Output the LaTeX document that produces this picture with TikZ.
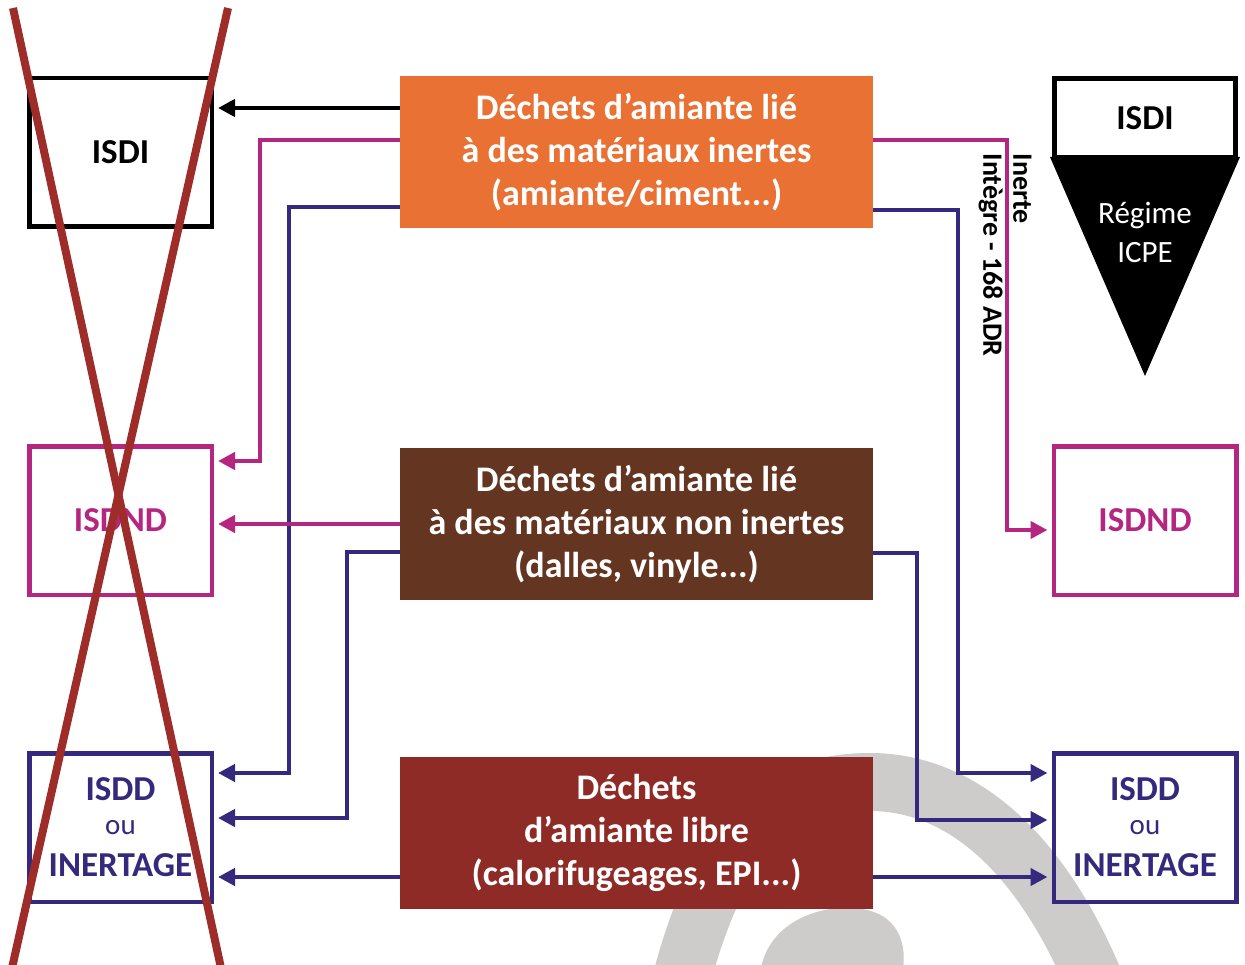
\documentclass[tikz,border=0pt]{standalone}
\usepackage{fontspec}
\setmainfont{Carlito}
\usetikzlibrary{arrows.meta}
\definecolor{orangebox}{RGB}{233,113,52}
\definecolor{brownbox}{RGB}{100,53,33}
\definecolor{redbox}{RGB}{143,43,38}
\definecolor{magflow}{RGB}{180,38,128}
\definecolor{blueflow}{RGB}{52,41,124}
\definecolor{crossred}{RGB}{158,44,40}
\definecolor{logogrey}{RGB}{206,204,202}

\begin{document}
\begin{tikzpicture}[x=1pt,y=-1pt]
  \tikzset{
    waste/.style={fill=#1,text=white,minimum width=473pt,minimum height=152pt,align=center,inner sep=0pt,font=\fontsize{36}{43}\selectfont\bfseries},
    site/.style={draw=#1,text=#1,line width=4.5pt,minimum width=182.5pt,minimum height=148.5pt,align=center,inner sep=0pt,font=\fontsize{35}{42}\selectfont\bfseries},
    flow/.style={draw=#1,line width=4.5pt,-{Triangle[length=17pt,width=17pt]},shorten >=4pt}
  }
  \useasboundingbox (0,0) rectangle (1245,965);
  \clip (0,0) rectangle (1245,965);
  \draw[logogrey,line width=58pt] (680,985) .. controls (720,830) and (780,782) .. (870,782) .. controls (960,782) and (1040,850) .. (1096,985);
  \fill[logogrey] (760,975) .. controls (765,925) and (815,905) .. (855,908) .. controls (900,912) and (908,945) .. (902,975) -- cycle;

  \node[waste=orangebox] (inert) at (636.5,152.5) {Déchets d’amiante lié\\à des matériaux inertes\\(amiante/ciment...)};
  \node[waste=brownbox] (noninert) at (636.5,524) {Déchets d’amiante lié\\à des matériaux non inertes\\(dalles, vinyle...)};
  \node[waste=redbox] (libre) at (636.5,832.5) {Déchets\\d’amiante libre\\(calorifugeages, EPI...)};

  \node[site=black] (isdiL) at (120.5,152.5) {ISDI};
  \node[site=magflow] (isndL) at (120.5,520.5) {ISDND};
  \node[site=blueflow] (isddL) at (120.5,827.5) {ISDD\\[-8pt]{\mdseries\fontsize{29}{34}\selectfont ou}\\INERTAGE};

  \fill (1050,157) -- (1240,157) -- (1145,376) -- cycle;
  \node[site=black,line width=5pt,minimum width=181pt,minimum height=79pt] (isdiR) at (1145,118) {ISDI};
  \node[text=white,align=center,font=\fontsize{31}{39}\selectfont] (regime) at (1145,232) {Régime\\ICPE};
  \node[site=magflow] (isndR) at (1145,520.5) {ISDND};
  \node[site=blueflow] (isddR) at (1145,827.5) {ISDD\\[-8pt]{\mdseries\fontsize{29}{34}\selectfont ou}\\INERTAGE};

  \draw[flow=black] ([yshift=44.5pt]inert.west) -- ([yshift=44.5pt]isdiL.east);
  \draw[flow=magflow] ([yshift=12.5pt]inert.west) -| (260,461) -- ([yshift=59.5pt]isndL.east);
  \draw[flow=blueflow] ([yshift=-54.5pt]inert.west) -| (289,773) -- ([yshift=54.5pt]isddL.east);
  \draw[flow=magflow] (noninert.west) -- (noninert.west -| isndL.east);
  \draw[flow=blueflow] ([yshift=-28pt]noninert.west) -| (347,818) -- ([yshift=9.5pt]isddL.east);
  \draw[flow=blueflow] ([yshift=-44.5pt]libre.west) -- ([yshift=-49.5pt]isddL.east);

  \draw[flow=magflow] ([yshift=12.5pt]inert.east) -| (1007,530) -- ([yshift=-9.5pt]isndR.west);
  \draw[flow=blueflow] ([yshift=-57.5pt]inert.east) -| (958,773) -- ([yshift=54.5pt]isddR.west);
  \draw[flow=blueflow] ([yshift=-29pt]noninert.east) -| (917,820) -- ([yshift=7.5pt]isddR.west);
  \draw[flow=blueflow] ([yshift=-44.5pt]libre.east) -- ([yshift=-49.5pt]isddR.west);
  \node[rotate=-90,anchor=west,align=left,font=\fontsize{28}{30}\selectfont\bfseries] (adr) at (1005,150) {Inerte\\Intègre - 168 ADR};

  \draw[crossred,line width=8pt] (13,8) -- (221,968);
  \draw[crossred,line width=8pt] (228,8) -- (12,968);
\end{tikzpicture}
\end{document}
